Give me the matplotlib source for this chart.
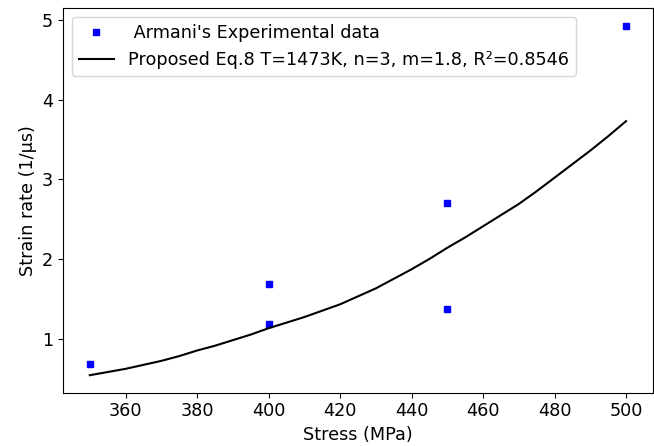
import matplotlib
matplotlib.use('Agg')
import matplotlib.pyplot as plt

# 实验数据
exp_stress = [350, 400, 400, 450, 450, 500]
exp_rate = [0.68, 1.69, 1.18, 2.70, 1.37, 4.93]

# 拟合曲线 (Eq.8)
fit_stress = [350, 355, 360, 365, 370, 375, 380, 385, 390, 395, 400, 405, 410, 415, 420, 425,
              430, 435, 440, 445, 450, 455, 460, 465, 470, 475, 480, 485, 490, 495, 500]
fit_rate = [0.54, 0.58, 0.62, 0.67, 0.72, 0.78, 0.85, 0.91, 0.98, 1.05, 1.13, 1.20, 1.27, 1.35,
            1.43, 1.53, 1.63, 1.75, 1.87, 2.00, 2.14, 2.27, 2.41, 2.55, 2.69, 2.85, 3.02, 3.19,
            3.36, 3.54, 3.73]

plt.rcParams['font.size'] = 12.7

fig = plt.figure(figsize=(6.54, 4.46), dpi=100)
ax = fig.add_axes([0.0963, 0.1195, 0.902, 0.8625])

ax.plot(exp_stress, exp_rate, 's', color='blue', markersize=5,
        label=" Armani's Experimental data")
ax.plot(fit_stress, fit_rate, '-', color='black', linewidth=1.5,
        label='Proposed Eq.8 T=1473K, n=3, m=1.8, R²=0.8546')

ax.set_xlabel('Stress (MPa)')
ax.set_ylabel('Strain rate (1/μs)')
ax.set_xticks([360, 380, 400, 420, 440, 460, 480, 500])
ax.set_yticks([1, 2, 3, 4, 5])
ax.legend(loc='upper left')

fig.savefig('out.png')
